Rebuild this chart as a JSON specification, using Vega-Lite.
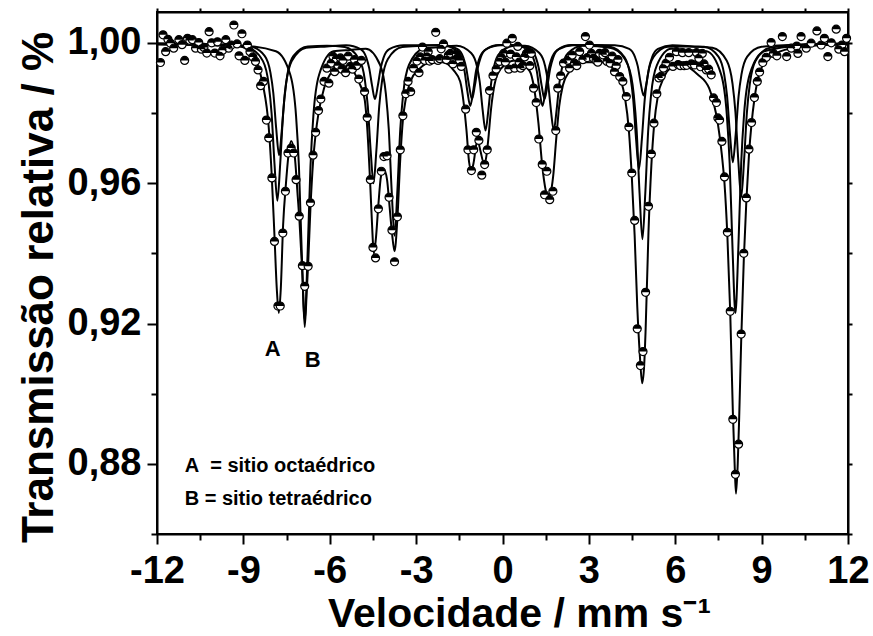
{
"$schema": "https://vega.github.io/schema/vega-lite/v6.json",
"width": 691, "height": 522,
"autosize": "none",
"padding": {"left": 157, "top": 12, "right": 25, "bottom": 102},
"background": "white",
"config": {
 "view": {"stroke": "black", "strokeWidth": 2},
 "axis": {"domainColor": "black", "domainWidth": 2, "tickColor": "black", "tickWidth": 2, "labelColor": "black", "titleColor": "black", "labelFont": "Liberation Sans", "titleFont": "Liberation Sans", "labelFontWeight": "bold", "titleFontWeight": "bold", "labelFontSize": 38, "titleFontSize": 40, "grid": false, "labelFlush": false, "labelOverlap": false},
 "text": {"font": "Liberation Sans", "fontWeight": "bold", "color": "black"}
},
"resolve": {"axis": {"x": "independent", "y": "independent"}},
"datasets": {
"pts": [
{"x":-11.88,"y":0.9944},{"x":-11.79,"y":1.0023},{"x":-11.70,"y":0.9975},{"x":-11.62,"y":1.0010},{"x":-11.53,"y":0.9999},{"x":-11.42,"y":0.9985},{"x":-11.24,"y":1.0009},{"x":-11.13,"y":0.9995},{"x":-11.04,"y":0.995},{"x":-10.94,"y":1.0013},{"x":-10.86,"y":1.0007},{"x":-10.77,"y":1.0009},{"x":-10.66,"y":0.9985},{"x":-10.55,"y":1.0001},{"x":-10.46,"y":0.9982},{"x":-10.37,"y":0.9987},{"x":-10.27,"y":0.9971},{"x":-10.19,"y":1.0032},{"x":-10.10,"y":1.0},{"x":-9.99,"y":0.9971},{"x":-9.90,"y":1.0003},{"x":-9.81,"y":0.9963},{"x":-9.72,"y":0.9979},{"x":-9.61,"y":1.0009},{"x":-9.51,"y":0.9985},{"x":-9.42,"y":0.9994},{"x":-9.33,"y":1.0051},{"x":-9.22,"y":0.9997},{"x":-9.15,"y":0.9963},{"x":-9.05,"y":1.0026},{"x":-8.95,"y":0.995},{"x":-8.86,"y":0.9994},{"x":-8.77,"y":0.9975},{"x":-8.67,"y":0.996},{"x":-8.58,"y":0.9947},{"x":-8.49,"y":0.9923},{"x":-8.40,"y":0.9878},{"x":-8.30,"y":0.989},{"x":-8.20,"y":0.978},{"x":-8.12,"y":0.9729},{"x":-8.01,"y":0.9615},{"x":-7.92,"y":0.9434},{"x":-7.80,"y":0.925},{"x":-7.72,"y":0.925},{"x":-7.63,"y":0.9458},{"x":-7.54,"y":0.9577},{"x":-7.45,"y":0.9686},{"x":-7.34,"y":0.970},{"x":-7.25,"y":0.9686},{"x":-7.17,"y":0.961},{"x":-7.06,"y":0.9506},{"x":-6.95,"y":0.9365},{"x":-6.87,"y":0.9306},{"x":-6.75,"y":0.9363},{"x":-6.67,"y":0.9544},{"x":-6.58,"y":0.968},{"x":-6.49,"y":0.9745},{"x":-6.39,"y":0.9807},{"x":-6.31,"y":0.984},{"x":-6.20,"y":0.989},{"x":-6.10,"y":0.9928},{"x":-6.03,"y":0.9885},{"x":-5.95,"y":0.9942},{"x":-5.89,"y":0.9962},{"x":-5.83,"y":0.9918},{"x":-5.77,"y":0.9954},{"x":-5.71,"y":0.9935},{"x":-5.63,"y":0.9957},{"x":-5.58,"y":0.9925},{"x":-5.54,"y":0.995},{"x":-5.45,"y":0.9915},{"x":-5.36,"y":0.9962},{"x":-5.28,"y":0.9933},{"x":-5.21,"y":0.9925},{"x":-5.14,"y":0.9952},{"x":-5.07,"y":0.9935},{"x":-4.99,"y":0.9897},{"x":-4.90,"y":0.995},{"x":-4.79,"y":0.9861},{"x":-4.70,"y":0.9787},{"x":-4.59,"y":0.961},{"x":-4.50,"y":0.9417},{"x":-4.41,"y":0.9387},{"x":-4.31,"y":0.9527},{"x":-4.21,"y":0.9634},{"x":-4.12,"y":0.9676},{"x":-4.01,"y":0.9678},{"x":-3.94,"y":0.956},{"x":-3.84,"y":0.9466},{"x":-3.75,"y":0.9376},{"x":-3.65,"y":0.9504},{"x":-3.55,"y":0.9695},{"x":-3.46,"y":0.9792},{"x":-3.36,"y":0.9855},{"x":-3.28,"y":0.989},{"x":-3.19,"y":0.9861},{"x":-3.09,"y":0.9928},{"x":-2.97,"y":0.9948},{"x":-2.90,"y":0.9915},{"x":-2.86,"y":0.996},{"x":-2.78,"y":0.9988},{"x":-2.70,"y":0.995},{"x":-2.62,"y":0.9962},{"x":-2.58,"y":0.9975},{"x":-2.53,"y":0.9948},{"x":-2.44,"y":0.9952},{"x":-2.32,"y":1.003},{"x":-2.24,"y":0.995},{"x":-2.18,"y":0.9955},{"x":-2.13,"y":0.9983},{"x":-2.05,"y":0.9997},{"x":-1.95,"y":0.9952},{"x":-1.88,"y":0.9965},{"x":-1.81,"y":0.997},{"x":-1.72,"y":0.994},{"x":-1.66,"y":0.9952},{"x":-1.60,"y":0.9968},{"x":-1.54,"y":0.996},{"x":-1.49,"y":0.995},{"x":-1.43,"y":0.9933},{"x":-1.28,"y":0.9811},{"x":-1.20,"y":0.9695},{"x":-1.08,"y":0.9636},{"x":-1.00,"y":0.9695},{"x":-0.91,"y":0.9745},{"x":-0.82,"y":0.9722},{"x":-0.72,"y":0.9623},{"x":-0.62,"y":0.9653},{"x":-0.53,"y":0.9695},{"x":-0.45,"y":0.9864},{"x":-0.33,"y":0.9906},{"x":-0.22,"y":0.9925},{"x":-0.10,"y":0.9947},{"x":-0.03,"y":0.996},{"x":0.04,"y":0.997},{"x":0.10,"y":0.9945},{"x":0.15,"y":0.9999},{"x":0.22,"y":0.9925},{"x":0.28,"y":0.9968},{"x":0.34,"y":1.0013},{"x":0.42,"y":0.9928},{"x":0.48,"y":0.996},{"x":0.53,"y":0.999},{"x":0.58,"y":0.9945},{"x":0.63,"y":0.9928},{"x":0.71,"y":0.9935},{"x":0.77,"y":0.996},{"x":0.83,"y":0.997},{"x":0.91,"y":0.9975},{"x":0.95,"y":0.9935},{"x":1.0,"y":0.997},{"x":1.08,"y":0.9871},{"x":1.17,"y":0.983},{"x":1.26,"y":0.9726},{"x":1.38,"y":0.9653},{"x":1.46,"y":0.9567},{"x":1.54,"y":0.9634},{"x":1.64,"y":0.9553},{"x":1.75,"y":0.9577},{"x":1.85,"y":0.975},{"x":1.92,"y":0.9871},{"x":2.02,"y":0.9906},{"x":2.12,"y":0.9942},{"x":2.27,"y":0.995},{"x":2.33,"y":0.9928},{"x":2.42,"y":0.9965},{"x":2.50,"y":0.9942},{"x":2.58,"y":0.9935},{"x":2.68,"y":0.9975},{"x":2.79,"y":0.9952},{"x":2.88,"y":1.0018},{"x":2.95,"y":0.9958},{"x":3.02,"y":0.9994},{"x":3.09,"y":0.997},{"x":3.16,"y":0.9956},{"x":3.25,"y":0.995},{"x":3.31,"y":0.9945},{"x":3.37,"y":0.997},{"x":3.49,"y":0.9966},{"x":3.56,"y":0.9972},{"x":3.63,"y":0.9947},{"x":3.74,"y":0.9942},{"x":3.81,"y":0.9962},{"x":3.89,"y":0.9918},{"x":3.95,"y":0.9935},{"x":4.01,"y":0.9952},{"x":4.07,"y":0.9904},{"x":4.18,"y":0.989},{"x":4.30,"y":0.9847},{"x":4.39,"y":0.976},{"x":4.49,"y":0.9629},{"x":4.59,"y":0.9494},{"x":4.68,"y":0.9185},{"x":4.79,"y":0.908},{"x":4.88,"y":0.912},{"x":4.97,"y":0.9289},{"x":5.07,"y":0.9534},{"x":5.17,"y":0.9683},{"x":5.26,"y":0.9771},{"x":5.36,"y":0.9855},{"x":5.43,"y":0.99},{"x":5.51,"y":0.9905},{"x":5.59,"y":0.9928},{"x":5.68,"y":0.9942},{"x":5.80,"y":0.9959},{"x":5.92,"y":0.9933},{"x":6.04,"y":0.9975},{"x":6.10,"y":0.9938},{"x":6.18,"y":0.9935},{"x":6.25,"y":0.9972},{"x":6.31,"y":0.9935},{"x":6.40,"y":0.9936},{"x":6.47,"y":0.9972},{"x":6.56,"y":0.994},{"x":6.67,"y":0.9937},{"x":6.74,"y":0.9972},{"x":6.82,"y":0.9956},{"x":6.88,"y":0.9932},{"x":6.94,"y":0.997},{"x":7.0,"y":0.994},{"x":7.08,"y":0.9923},{"x":7.16,"y":0.9925},{"x":7.25,"y":0.9909},{"x":7.33,"y":0.9843},{"x":7.43,"y":0.983},{"x":7.48,"y":0.9786},{"x":7.54,"y":0.978},{"x":7.62,"y":0.9719},{"x":7.71,"y":0.9618},{"x":7.81,"y":0.946},{"x":7.91,"y":0.9235},{"x":8.0,"y":0.8927},{"x":8.09,"y":0.877},{"x":8.20,"y":0.8856},{"x":8.29,"y":0.917},{"x":8.38,"y":0.940},{"x":8.47,"y":0.9558},{"x":8.56,"y":0.9697},{"x":8.65,"y":0.9773},{"x":8.75,"y":0.9844},{"x":8.85,"y":0.989},{"x":8.93,"y":0.9917},{"x":9.04,"y":0.9944},{"x":9.16,"y":0.9959},{"x":9.33,"y":1.0001},{"x":9.41,"y":0.997},{"x":9.53,"y":0.9963},{"x":9.72,"y":1.0018},{"x":9.87,"y":0.9961},{"x":10.03,"y":0.9985},{"x":10.22,"y":0.9991},{"x":10.26,"y":0.997},{"x":10.37,"y":1.0018},{"x":10.55,"y":0.9985},{"x":10.72,"y":0.9999},{"x":10.92,"y":1.0034},{"x":11.07,"y":0.9994},{"x":11.18,"y":1.0013},{"x":11.30,"y":0.9961},{"x":11.42,"y":1.0},{"x":11.59,"y":1.0039},{"x":11.68,"y":0.9982},{"x":11.79,"y":0.9994},{"x":11.88,"y":0.9975},{"x":11.95,"y":1.0013}
],
"fit": [
{"c":"T","x":-12,"y":0.9995},{"c":"T","x":-10.13,"y":0.9993},{"c":"T","x":-9.13,"y":0.999},{"c":"T","x":-8.72,"y":0.997},{"c":"T","x":-8.52,"y":0.994},{"c":"T","x":-8.32,"y":0.988},{"c":"T","x":-8.12,"y":0.976},{"c":"T","x":-8.02,"y":0.963},{"c":"T","x":-7.92,"y":0.945},{"c":"T","x":-7.84,"y":0.930},{"c":"T","x":-7.77,"y":0.923},{"c":"T","x":-7.70,"y":0.930},{"c":"T","x":-7.62,"y":0.948},{"c":"T","x":-7.52,"y":0.960},{"c":"T","x":-7.42,"y":0.969},{"c":"T","x":-7.34,"y":0.972},{"c":"T","x":-7.22,"y":0.968},{"c":"T","x":-7.11,"y":0.956},{"c":"T","x":-7.05,"y":0.949},{"c":"T","x":-6.95,"y":0.934},{"c":"T","x":-6.87,"y":0.919},{"c":"T","x":-6.80,"y":0.929},{"c":"T","x":-6.75,"y":0.937},{"c":"T","x":-6.67,"y":0.953},{"c":"T","x":-6.58,"y":0.966},{"c":"T","x":-6.49,"y":0.974},{"c":"T","x":-6.39,"y":0.980},{"c":"T","x":-6.20,"y":0.987},{"c":"T","x":-5.90,"y":0.992},{"c":"T","x":-5.60,"y":0.9935},{"c":"T","x":-5.30,"y":0.993},{"c":"T","x":-5.00,"y":0.989},{"c":"T","x":-4.79,"y":0.984},{"c":"T","x":-4.70,"y":0.976},{"c":"T","x":-4.59,"y":0.959},{"c":"T","x":-4.53,"y":0.948},{"c":"T","x":-4.47,"y":0.940},{"c":"T","x":-4.40,"y":0.944},{"c":"T","x":-4.31,"y":0.954},{"c":"T","x":-4.22,"y":0.962},{"c":"T","x":-4.12,"y":0.964},{"c":"T","x":-4.01,"y":0.961},{"c":"T","x":-3.94,"y":0.955},{"c":"T","x":-3.84,"y":0.946},{"c":"T","x":-3.75,"y":0.9406},{"c":"T","x":-3.65,"y":0.950},{"c":"T","x":-3.55,"y":0.967},{"c":"T","x":-3.46,"y":0.978},{"c":"T","x":-3.36,"y":0.984},{"c":"T","x":-3.20,"y":0.989},{"c":"T","x":-2.90,"y":0.9925},{"c":"T","x":-2.48,"y":0.9945},{"c":"T","x":-2.08,"y":0.9945},{"c":"T","x":-1.68,"y":0.992},{"c":"T","x":-1.47,"y":0.989},{"c":"T","x":-1.35,"y":0.983},{"c":"T","x":-1.25,"y":0.975},{"c":"T","x":-1.16,"y":0.966},{"c":"T","x":-1.08,"y":0.9636},{"c":"T","x":-1.0,"y":0.966},{"c":"T","x":-0.91,"y":0.971},{"c":"T","x":-0.86,"y":0.972},{"c":"T","x":-0.76,"y":0.969},{"c":"T","x":-0.66,"y":0.966},{"c":"T","x":-0.59,"y":0.9665},{"c":"T","x":-0.50,"y":0.972},{"c":"T","x":-0.40,"y":0.981},{"c":"T","x":-0.28,"y":0.988},{"c":"T","x":-0.07,"y":0.9925},{"c":"T","x":0.44,"y":0.995},{"c":"T","x":0.94,"y":0.992},{"c":"T","x":1.10,"y":0.987},{"c":"T","x":1.25,"y":0.977},{"c":"T","x":1.38,"y":0.965},{"c":"T","x":1.50,"y":0.958},{"c":"T","x":1.57,"y":0.956},{"c":"T","x":1.66,"y":0.957},{"c":"T","x":1.76,"y":0.962},{"c":"T","x":1.86,"y":0.972},{"c":"T","x":1.97,"y":0.982},{"c":"T","x":2.10,"y":0.988},{"c":"T","x":2.30,"y":0.9915},{"c":"T","x":2.76,"y":0.9945},{"c":"T","x":3.46,"y":0.9945},{"c":"T","x":3.96,"y":0.9915},{"c":"T","x":4.26,"y":0.984},{"c":"T","x":4.39,"y":0.975},{"c":"T","x":4.49,"y":0.962},{"c":"T","x":4.59,"y":0.945},{"c":"T","x":4.68,"y":0.925},{"c":"T","x":4.77,"y":0.911},{"c":"T","x":4.85,"y":0.903},{"c":"T","x":4.92,"y":0.908},{"c":"T","x":4.97,"y":0.918},{"c":"T","x":5.07,"y":0.946},{"c":"T","x":5.17,"y":0.965},{"c":"T","x":5.27,"y":0.977},{"c":"T","x":5.40,"y":0.985},{"c":"T","x":5.60,"y":0.990},{"c":"T","x":5.80,"y":0.9925},{"c":"T","x":6.28,"y":0.9935},{"c":"T","x":6.78,"y":0.991},{"c":"T","x":7.18,"y":0.987},{"c":"T","x":7.33,"y":0.983},{"c":"T","x":7.48,"y":0.977},{"c":"T","x":7.62,"y":0.968},{"c":"T","x":7.71,"y":0.960},{"c":"T","x":7.81,"y":0.945},{"c":"T","x":7.91,"y":0.923},{"c":"T","x":8.0,"y":0.895},{"c":"T","x":8.07,"y":0.878},{"c":"T","x":8.11,"y":0.8715},{"c":"T","x":8.17,"y":0.880},{"c":"T","x":8.22,"y":0.893},{"c":"T","x":8.29,"y":0.915},{"c":"T","x":8.38,"y":0.938},{"c":"T","x":8.47,"y":0.955},{"c":"T","x":8.56,"y":0.968},{"c":"T","x":8.65,"y":0.977},{"c":"T","x":8.75,"y":0.984},{"c":"T","x":8.85,"y":0.989},{"c":"T","x":8.95,"y":0.992},{"c":"T","x":9.2,"y":0.995},{"c":"T","x":9.8,"y":0.998},{"c":"T","x":11.01,"y":0.9993},{"c":"T","x":12,"y":0.9995},
{"c":"A1","x":-12,"y":0.9998},{"c":"A1","x":-9.5,"y":0.9994},{"c":"A1","x":-8.82,"y":0.9986},{"c":"A1","x":-8.32,"y":0.9948},{"c":"A1","x":-8.12,"y":0.9881},{"c":"A1","x":-8.02,"y":0.9799},{"c":"A1","x":-7.92,"y":0.9656},{"c":"A1","x":-7.82,"y":0.955},{"c":"A1","x":-7.72,"y":0.9656},{"c":"A1","x":-7.62,"y":0.9799},{"c":"A1","x":-7.52,"y":0.9881},{"c":"A1","x":-7.32,"y":0.9948},{"c":"A1","x":-6.82,"y":0.9986},{"c":"A1","x":-6.1,"y":0.999},{"c":"A1","x":-5.43,"y":0.9993},{"c":"A1","x":-4.93,"y":0.9982},{"c":"A1","x":-4.73,"y":0.9958},{"c":"A1","x":-4.63,"y":0.9928},{"c":"A1","x":-4.53,"y":0.9878},{"c":"A1","x":-4.43,"y":0.984},{"c":"A1","x":-4.33,"y":0.9878},{"c":"A1","x":-4.23,"y":0.9928},{"c":"A1","x":-4.13,"y":0.9958},{"c":"A1","x":-3.93,"y":0.9982},{"c":"A1","x":-3.43,"y":0.9993},{"c":"A1","x":-2.75,"y":0.9993},{"c":"A1","x":-2.06,"y":0.9993},{"c":"A1","x":-1.56,"y":0.9982},{"c":"A1","x":-1.36,"y":0.9958},{"c":"A1","x":-1.26,"y":0.9928},{"c":"A1","x":-1.16,"y":0.9878},{"c":"A1","x":-1.06,"y":0.984},{"c":"A1","x":-0.96,"y":0.9878},{"c":"A1","x":-0.86,"y":0.9928},{"c":"A1","x":-0.76,"y":0.9958},{"c":"A1","x":-0.56,"y":0.9982},{"c":"A1","x":-0.06,"y":0.9993},{"c":"A1","x":0.2,"y":0.9993},{"c":"A1","x":0.46,"y":0.9993},{"c":"A1","x":0.96,"y":0.9982},{"c":"A1","x":1.16,"y":0.9958},{"c":"A1","x":1.26,"y":0.9928},{"c":"A1","x":1.36,"y":0.9878},{"c":"A1","x":1.46,"y":0.984},{"c":"A1","x":1.56,"y":0.9878},{"c":"A1","x":1.66,"y":0.9928},{"c":"A1","x":1.76,"y":0.9958},{"c":"A1","x":1.96,"y":0.9982},{"c":"A1","x":2.46,"y":0.9993},{"c":"A1","x":3.2,"y":0.9994},{"c":"A1","x":3.90,"y":0.9993},{"c":"A1","x":4.40,"y":0.9983},{"c":"A1","x":4.60,"y":0.996},{"c":"A1","x":4.70,"y":0.9933},{"c":"A1","x":4.80,"y":0.9885},{"c":"A1","x":4.90,"y":0.985},{"c":"A1","x":5.00,"y":0.9885},{"c":"A1","x":5.10,"y":0.9933},{"c":"A1","x":5.20,"y":0.996},{"c":"A1","x":5.40,"y":0.9983},{"c":"A1","x":5.90,"y":0.9993},{"c":"A1","x":6.6,"y":0.999},{"c":"A1","x":7.29,"y":0.9986},{"c":"A1","x":7.79,"y":0.9949},{"c":"A1","x":7.99,"y":0.9883},{"c":"A1","x":8.09,"y":0.9803},{"c":"A1","x":8.19,"y":0.9664},{"c":"A1","x":8.29,"y":0.956},{"c":"A1","x":8.39,"y":0.9664},{"c":"A1","x":8.49,"y":0.9803},{"c":"A1","x":8.59,"y":0.9883},{"c":"A1","x":8.79,"y":0.9949},{"c":"A1","x":9.29,"y":0.9986},{"c":"A1","x":10.5,"y":0.9995},{"c":"A1","x":12,"y":0.9998},
{"c":"A2","x":-12,"y":0.9998},{"c":"A2","x":-9.5,"y":0.9995},{"c":"A2","x":-8.76,"y":0.999},{"c":"A2","x":-8.26,"y":0.9963},{"c":"A2","x":-8.06,"y":0.9915},{"c":"A2","x":-7.96,"y":0.9857},{"c":"A2","x":-7.86,"y":0.9756},{"c":"A2","x":-7.76,"y":0.968},{"c":"A2","x":-7.66,"y":0.9756},{"c":"A2","x":-7.56,"y":0.9857},{"c":"A2","x":-7.46,"y":0.9915},{"c":"A2","x":-7.26,"y":0.9963},{"c":"A2","x":-6.76,"y":0.999},{"c":"A2","x":-6.1,"y":0.9992},{"c":"A2","x":-5.48,"y":0.9988},{"c":"A2","x":-4.98,"y":0.9954},{"c":"A2","x":-4.78,"y":0.9894},{"c":"A2","x":-4.68,"y":0.9821},{"c":"A2","x":-4.58,"y":0.9694},{"c":"A2","x":-4.48,"y":0.96},{"c":"A2","x":-4.38,"y":0.9694},{"c":"A2","x":-4.28,"y":0.9821},{"c":"A2","x":-4.18,"y":0.9894},{"c":"A2","x":-3.98,"y":0.9954},{"c":"A2","x":-3.48,"y":0.9988},{"c":"A2","x":-2.8,"y":0.9992},{"c":"A2","x":-2.12,"y":0.9994},{"c":"A2","x":-1.62,"y":0.9979},{"c":"A2","x":-1.42,"y":0.9952},{"c":"A2","x":-1.32,"y":0.992},{"c":"A2","x":-1.22,"y":0.9862},{"c":"A2","x":-1.12,"y":0.982},{"c":"A2","x":-1.02,"y":0.9862},{"c":"A2","x":-0.92,"y":0.992},{"c":"A2","x":-0.82,"y":0.9952},{"c":"A2","x":-0.62,"y":0.9979},{"c":"A2","x":-0.12,"y":0.9994},{"c":"A2","x":0.39,"y":0.9994},{"c":"A2","x":0.89,"y":0.9979},{"c":"A2","x":1.09,"y":0.9952},{"c":"A2","x":1.19,"y":0.992},{"c":"A2","x":1.29,"y":0.9862},{"c":"A2","x":1.39,"y":0.982},{"c":"A2","x":1.49,"y":0.9862},{"c":"A2","x":1.59,"y":0.992},{"c":"A2","x":1.69,"y":0.9952},{"c":"A2","x":1.89,"y":0.9979},{"c":"A2","x":2.39,"y":0.9994},{"c":"A2","x":3.05,"y":0.9993},{"c":"A2","x":3.74,"y":0.9989},{"c":"A2","x":4.24,"y":0.9959},{"c":"A2","x":4.44,"y":0.9905},{"c":"A2","x":4.54,"y":0.9839},{"c":"A2","x":4.64,"y":0.9725},{"c":"A2","x":4.74,"y":0.964},{"c":"A2","x":4.84,"y":0.9725},{"c":"A2","x":4.94,"y":0.9839},{"c":"A2","x":5.04,"y":0.9905},{"c":"A2","x":5.24,"y":0.9959},{"c":"A2","x":5.74,"y":0.9989},{"c":"A2","x":6.35,"y":0.999},{"c":"A2","x":7.00,"y":0.9989},{"c":"A2","x":7.50,"y":0.9961},{"c":"A2","x":7.70,"y":0.991},{"c":"A2","x":7.80,"y":0.9848},{"c":"A2","x":7.90,"y":0.974},{"c":"A2","x":8.00,"y":0.966},{"c":"A2","x":8.10,"y":0.974},{"c":"A2","x":8.20,"y":0.9848},{"c":"A2","x":8.30,"y":0.991},{"c":"A2","x":8.50,"y":0.9961},{"c":"A2","x":9.00,"y":0.9989},{"c":"A2","x":10.5,"y":0.9996},{"c":"A2","x":12,"y":0.9998},
{"c":"B","x":-12,"y":0.9997},{"c":"B","x":-9,"y":0.9992},{"c":"B","x":-7.87,"y":0.9976},{"c":"B","x":-7.37,"y":0.9909},{"c":"B","x":-7.17,"y":0.9791},{"c":"B","x":-7.07,"y":0.9647},{"c":"B","x":-6.97,"y":0.9396},{"c":"B","x":-6.87,"y":0.921},{"c":"B","x":-6.77,"y":0.9396},{"c":"B","x":-6.67,"y":0.9647},{"c":"B","x":-6.57,"y":0.9791},{"c":"B","x":-6.37,"y":0.9909},{"c":"B","x":-5.87,"y":0.9976},{"c":"B","x":-5.3,"y":0.998},{"c":"B","x":-4.75,"y":0.9983},{"c":"B","x":-4.25,"y":0.9937},{"c":"B","x":-4.05,"y":0.9854},{"c":"B","x":-3.95,"y":0.9754},{"c":"B","x":-3.85,"y":0.958},{"c":"B","x":-3.75,"y":0.945},{"c":"B","x":-3.65,"y":0.958},{"c":"B","x":-3.55,"y":0.9754},{"c":"B","x":-3.45,"y":0.9854},{"c":"B","x":-3.25,"y":0.9937},{"c":"B","x":-2.75,"y":0.9983},{"c":"B","x":-2.2,"y":0.9988},{"c":"B","x":-1.59,"y":0.9992},{"c":"B","x":-1.09,"y":0.9971},{"c":"B","x":-0.89,"y":0.9934},{"c":"B","x":-0.79,"y":0.9888},{"c":"B","x":-0.69,"y":0.9809},{"c":"B","x":-0.59,"y":0.975},{"c":"B","x":-0.49,"y":0.9809},{"c":"B","x":-0.39,"y":0.9888},{"c":"B","x":-0.29,"y":0.9934},{"c":"B","x":-0.09,"y":0.9971},{"c":"B","x":0.41,"y":0.9992},{"c":"B","x":0.78,"y":0.9992},{"c":"B","x":1.28,"y":0.9971},{"c":"B","x":1.48,"y":0.9934},{"c":"B","x":1.58,"y":0.9888},{"c":"B","x":1.68,"y":0.9809},{"c":"B","x":1.78,"y":0.975},{"c":"B","x":1.88,"y":0.9809},{"c":"B","x":1.98,"y":0.9888},{"c":"B","x":2.08,"y":0.9934},{"c":"B","x":2.28,"y":0.9971},{"c":"B","x":2.78,"y":0.9992},{"c":"B","x":3.3,"y":0.999},{"c":"B","x":3.86,"y":0.9983},{"c":"B","x":4.36,"y":0.9936},{"c":"B","x":4.56,"y":0.9852},{"c":"B","x":4.66,"y":0.975},{"c":"B","x":4.76,"y":0.9572},{"c":"B","x":4.86,"y":0.944},{"c":"B","x":4.96,"y":0.9572},{"c":"B","x":5.06,"y":0.975},{"c":"B","x":5.16,"y":0.9852},{"c":"B","x":5.36,"y":0.9936},{"c":"B","x":5.86,"y":0.9983},{"c":"B","x":6.45,"y":0.998},{"c":"B","x":7.09,"y":0.9976},{"c":"B","x":7.59,"y":0.9911},{"c":"B","x":7.79,"y":0.9796},{"c":"B","x":7.89,"y":0.9656},{"c":"B","x":7.99,"y":0.9412},{"c":"B","x":8.09,"y":0.923},{"c":"B","x":8.19,"y":0.9412},{"c":"B","x":8.29,"y":0.9656},{"c":"B","x":8.39,"y":0.9796},{"c":"B","x":8.59,"y":0.9911},{"c":"B","x":9.09,"y":0.9976},{"c":"B","x":10.5,"y":0.9993},{"c":"B","x":12,"y":0.9997}
],
"lab": [{"x":-7.98,"y":0.9126,"t":"A"},{"x":-6.59,"y":0.9095,"t":"B"}],
"leg": [{"x":-11.04,"y":0.8793,"t":"A\u00a0 = sitio octaédrico"},{"x":-11.04,"y":0.8699,"t":"B = sitio tetraédrico"}]
},
"layer": [
{"data": {"name": "fit"},
 "mark": {"type": "line", "color": "black", "strokeWidth": 2, "interpolate": "monotone"},
 "encoding": {
  "x": {"field": "x", "type": "quantitative", "scale": {"domain": [-12, 12], "nice": false, "zero": false},
   "axis": {"orient": "bottom", "values": [-12,-10.5,-9,-7.5,-6,-4.5,-3,-1.5,0,1.5,3,4.5,6,7.5,9,10.5,12],
    "labelExpr": "datum.value % 3 == 0 ? (datum.value < 0 ? '-' : '') + format(abs(datum.value), 'd') : ''",
    "tickSize": {"condition": {"test": "datum.value % 3 == 0", "value": 10}, "value": 6},
    "labelPadding": 8, "title": "Velocidade / mm s⁻¹", "titleX": 362, "titleAlign": "center", "titleY": 92, "titleBaseline": "alphabetic", "titleFontSize": 41}},
  "y": {"field": "y", "type": "quantitative", "scale": {"domain": [0.86, 1.0088], "nice": false, "zero": false},
   "axis": {"orient": "left", "values": [0.86,0.88,0.9,0.92,0.94,0.96,0.98,1.0],
    "labelExpr": "round(datum.value*100) % 4 == 0 ? replace(format(datum.value, '.2f'), '.', ',') : ''",
    "tickSize": {"condition": {"test": "round(datum.value*100) % 4 == 0", "value": 10}, "value": 6},
    "labelPadding": 6, "title": "Transmissão relativa / %", "titleFontSize": 44, "titleAngle": 270, "titleX": -105, "titleY": 275, "titleAlign": "center", "titleBaseline": "alphabetic"}},
  "detail": {"field": "c", "type": "nominal"}
 }},
{"data": {"name": "pts"},
 "mark": {"type": "point", "shape": "circle", "filled": true, "fill": "white", "stroke": "black", "strokeWidth": 1.2, "size": 64, "opacity": 1},
 "encoding": {
  "x": {"field": "x", "type": "quantitative", "scale": {"domain": [-12, 12], "nice": false, "zero": false},
   "axis": {"orient": "top", "values": [-12,-10.5,-9,-7.5,-6,-4.5,-3,-1.5,0,1.5,3,4.5,6,7.5,9,10.5,12], "labels": false, "title": null, "tickSize": 4}},
  "y": {"field": "y", "type": "quantitative", "scale": {"domain": [0.86, 1.0088], "nice": false, "zero": false},
   "axis": {"orient": "right", "values": [0.86,0.88,0.9,0.92,0.94,0.96,0.98,1.0], "labels": false, "title": null, "tickSize": 4}}
 }},
{"data": {"name": "pts"},
 "mark": {"type": "point", "shape": "M -1 0 A 1 1 0 0 1 1 0 Z", "filled": true, "fill": "black", "strokeWidth": 0, "size": 64, "opacity": 1},
 "encoding": {
  "x": {"field": "x", "type": "quantitative", "scale": {"domain": [-12, 12], "nice": false, "zero": false}, "axis": null},
  "y": {"field": "y", "type": "quantitative", "scale": {"domain": [0.86, 1.0088], "nice": false, "zero": false}, "axis": null}
 }},
{"data": {"name": "lab"},
 "mark": {"type": "text", "fontSize": 22, "align": "center", "baseline": "middle"},
 "encoding": {
  "x": {"field": "x", "type": "quantitative", "axis": null},
  "y": {"field": "y", "type": "quantitative", "axis": null},
  "text": {"field": "t"}
 }},
{"data": {"name": "leg"},
 "mark": {"type": "text", "fontSize": 20, "align": "left", "baseline": "middle"},
 "encoding": {
  "x": {"field": "x", "type": "quantitative", "axis": null},
  "y": {"field": "y", "type": "quantitative", "axis": null},
  "text": {"field": "t"}
 }}
]
}
